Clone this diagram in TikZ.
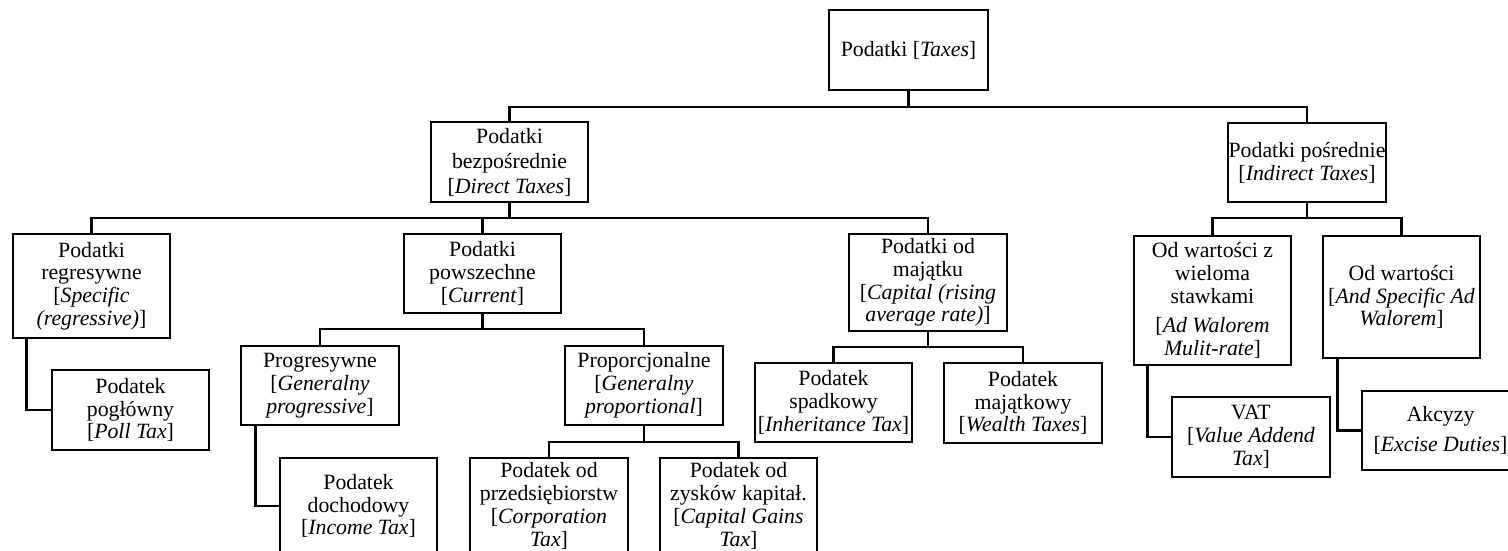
\documentclass[tikz,border=0pt]{standalone}
\usepackage{fontspec}
\setmainfont{Liberation Serif}
\begin{document}
\begin{tikzpicture}[x=1pt,y=-1pt,
  box/.style={draw, line width=2.7pt, inner sep=0pt, align=center,
    font=\fontsize{21.8}{22.8}\selectfont},
  wh/.style 2 args={minimum width=#1pt, minimum height=#2pt},
  link/.style={line width=2.5pt}]
\useasboundingbox (0,0) rectangle (1508,551);
\fill[white] (0,0) rectangle (1508,551);
\clip (0,0) rectangle (1508,551);

% top level
\node[box, wh={159}{80}] (root) at (908.5,50) {Podatki [\textit{Taxes}]};
\node[box, wh={157}{80}, font=\fontsize{21.8}{25}\selectfont] (direct) at (509.5,162)
  {Podatki\\bezpośrednie\\{[}\textit{Direct Taxes}]};
\node[box, wh={158}{79}] (indirect) at (1307,162.5)
  {Podatki pośrednie\\{[}\textit{Indirect Taxes}]};

% direct taxes
\node[box, wh={157}{104}] (regres) at (91.5,286)
  {Podatki\\regresywne\\{[}\textit{Specific}\\\textit{(regressive)}]};
\node[box, wh={157}{80}] (poll) at (130.5,410)
  {Podatek\\pogłówny\\{[}\textit{Poll Tax}]};
\node[box, wh={157}{79}] (powsz) at (482.5,273.5)
  {Podatki\\powszechne\\{[}\textit{Current}]};
\node[box, wh={158}{97}] (majatku) at (928,282.5)
  {Podatki od\\majątku\\{[}\textit{Capital (rising}\\\textit{average rate)}]};
\node[box, wh={158}{79}] (progr) at (320,385.5)
  {Progresywne\\{[}\textit{Generalny}\\\textit{progressive}]};
\node[box, wh={157}{96}] (dochod) at (358.5,506)
  {Podatek\\dochodowy\\{[}\textit{Income Tax}]};
\node[box, wh={158}{79}] (proporc) at (644,385.5)
  {Proporcjonalne\\{[}\textit{Generalny}\\\textit{proportional}]};
\node[box, wh={158}{96}] (przeds) at (549,506)
  {Podatek od\\przedsiębiorstw\\{[}\textit{Corporation}\\\textit{Tax}]};
\node[box, wh={157}{96}] (zyskow) at (738.5,506)
  {Podatek od\\zysków kapitał.\\{[}\textit{Capital Gains}\\\textit{Tax}]};
\node[box, wh={157}{79}] (spadk) at (833.5,402.5)
  {Podatek\\spadkowy\\{[}\textit{Inheritance Tax}]};
\node[box, wh={158}{80}] (majatk) at (1023,403)
  {Podatek\\majątkowy\\{[}\textit{Wealth Taxes}]};

% indirect taxes
\node[box, wh={157}{129}] (wielom) at (1212.5,300.5)
  {Od wartości z\\wieloma\\stawkami\\[7pt]{[}\textit{Ad Walorem}\\\textit{Mulit-rate}]};
\node[box, wh={157}{122}] (odwart) at (1401.5,297)
  {Od wartości\\{[}\textit{And Specific Ad}\\\textit{Walorem}]};
\node[box, wh={158}{80}] (vat) at (1251,437)
  {VAT\\{[}\textit{Value Addend}\\\textit{Tax}]};
\node[box, wh={157}{79}] (akcyzy) at (1440.5,430.5)
  {Akcyzy\\[7pt]{[}\textit{Excise Duties}]};

% bus points
\coordinate (busA) at (908.5,107);
\coordinate (busB) at (509.5,218);
\coordinate (busC) at (482.5,329);
\coordinate (busD) at (644,442);
\coordinate (busE) at (928,347);
\coordinate (busF) at (1307,218);

% tree connectors
\draw[link] (root.south) -- (busA);
\draw[link] (direct.north) |- (busA) -| (indirect.north);

\draw[link] (direct.south) -- (busB);
\draw[link] (regres.north) |- (busB) -| (majatku.north);
\draw[link] (powsz.north) -- (powsz.north |- busB);

\draw[link] (powsz.south) -- (busC);
\draw[link] (progr.north) |- (busC) -| (proporc.north);

\draw[link] (proporc.south) -- (busD);
\draw[link] (przeds.north) |- (busD) -| (zyskow.north);

\draw[link] (majatku.south) -- (busE);
\draw[link] (spadk.north) |- (busE) -| (majatk.north);

\draw[link] (indirect.south) -- (busF);
\draw[link] (wielom.north) |- (busF) -| (odwart.north);

% side elbows
\draw[link] ([xshift=15pt]regres.south west) |- (poll.west);
\draw[link] ([xshift=16pt]progr.south west) |- (dochod.west);
\draw[link] ([xshift=15pt]wielom.south west) |- (vat.west);
\draw[link] ([xshift=16pt]odwart.south west) |- (akcyzy.west);
\end{tikzpicture}
\end{document}
